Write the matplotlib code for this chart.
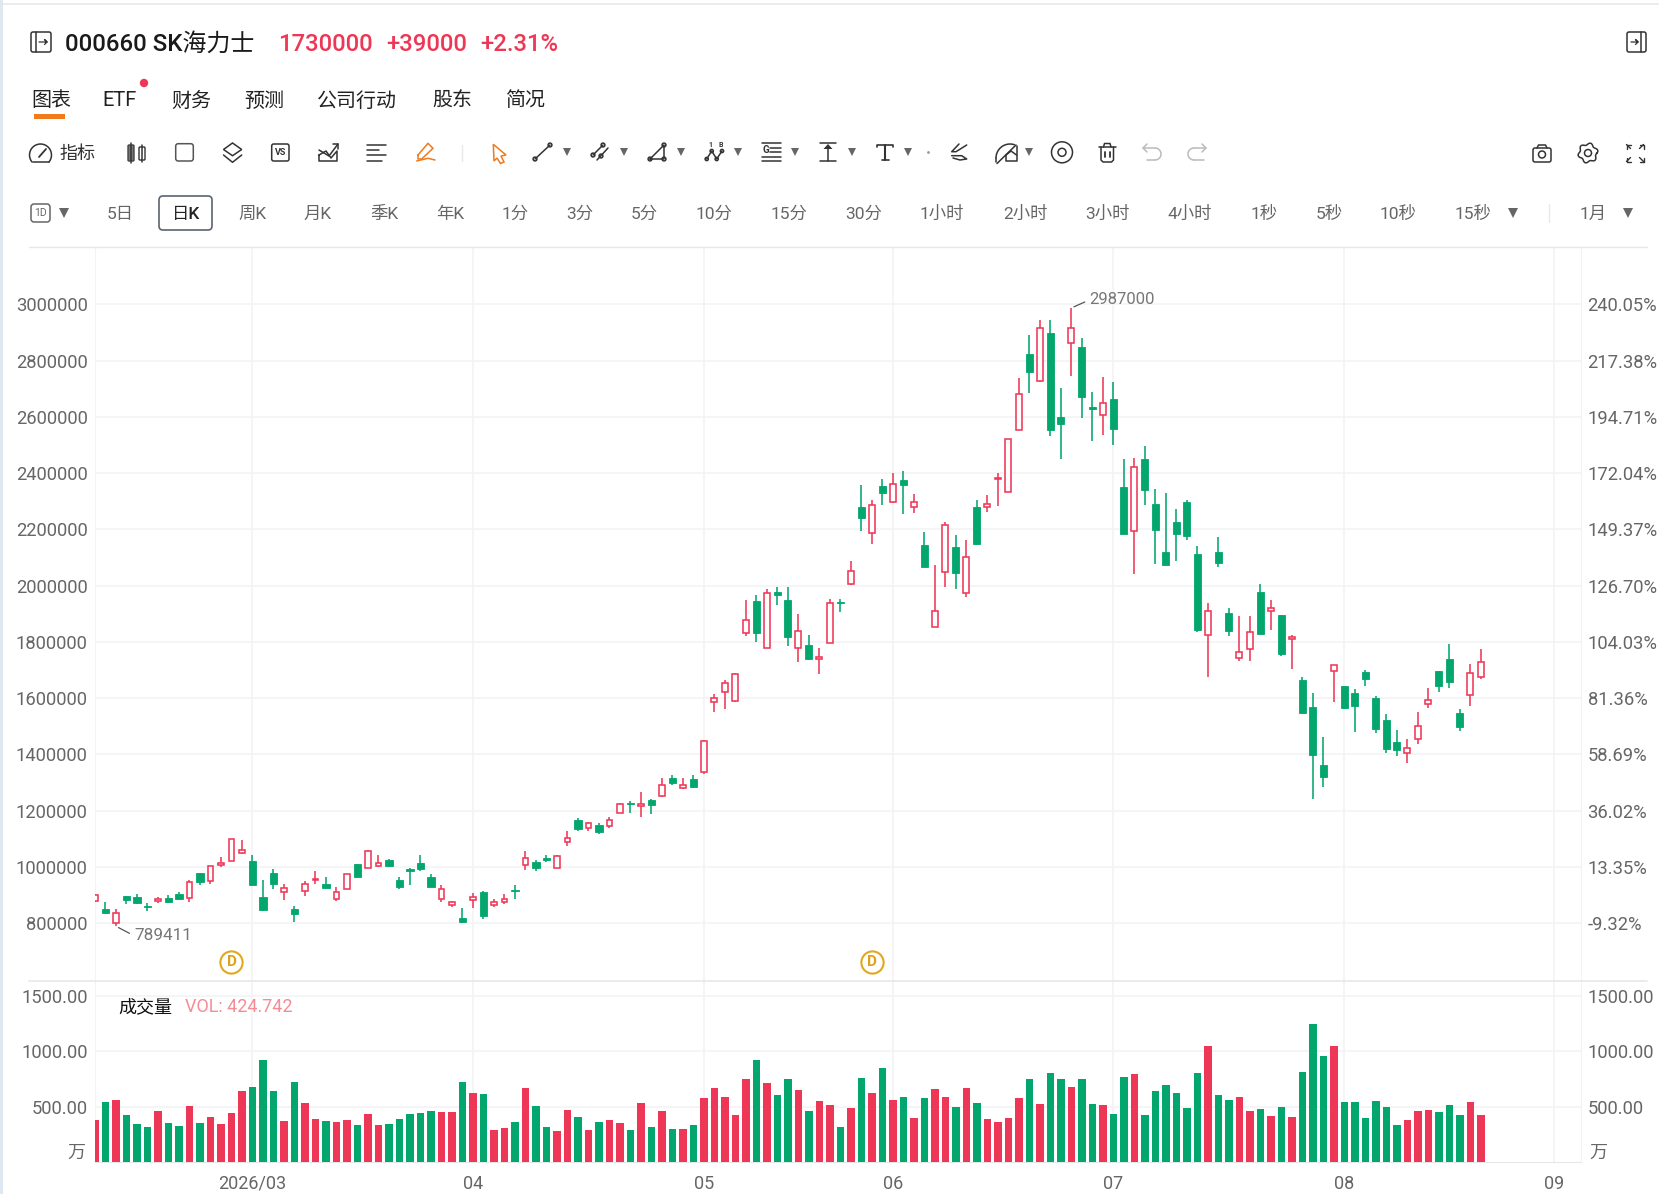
from matplotlib import pyplot as plt
from matplotlib.patches import FancyBboxPatch, Circle, Rectangle, Polygon
from matplotlib.transforms import blended_transform_factory
import numpy as np

plt.rcParams["font.family"] = ["Roboto", "Noto Sans CJK SC", "DejaVu Sans"]

W, H = 1659, 1194

#prices in thousands
opens = [881, 850, 802, 897, 892, 862, 878, 890, 904, 889, 979, 949, 1006, 1022, 1049, 1023, 895, 977, 910, 852,
         914, 953, 940, 888, 923, 1010, 998, 1004, 1024, 953, 994, 1016, 965, 888, 864, 818, 883, 913, 865, 874,
         919, 1006, 1017, 1033, 998, 1089, 1168, 1139, 1149, 1146, 1193, 1227, 1218, 1238, 1251, 1315, 1282, 1313, 1336, 1588,
         1621, 1589, 1831, 1944, 1780, 1979, 1949, 1778, 1790, 1741, 1797, 1943, 2006, 2278, 2187, 2353, 2296, 2377, 2281, 2143,
         1854, 2047, 2137, 1973, 2281, 2280, 2378, 2333, 2555, 2823, 2726, 2897, 2598, 2864, 2850, 2635, 2607, 2665, 2351, 2196,
         2449, 2289, 2118, 2228, 2296, 2114, 1825, 2120, 1903, 1744, 1774, 1977, 1910, 1895, 1812, 1663, 1568, 1361, 1696, 1644,
         1620, 1694, 1601, 1522, 1443, 1404, 1455, 1580, 1696, 1738, 1547, 1612, 1674]
highs = [904, 877, 850, 898, 904, 873, 894, 902, 911, 955, 979, 1004, 1037, 1100, 1096, 1042, 955, 993, 939, 863,
         951, 986, 964, 929, 976, 1011, 1060, 1043, 1027, 964, 996, 1043, 974, 935, 879, 853, 907, 914, 888, 903,
         935, 1057, 1025, 1043, 1042, 1129, 1173, 1161, 1155, 1177, 1227, 1235, 1268, 1243, 1318, 1328, 1318, 1327, 1450, 1614,
         1665, 1688, 1949, 1967, 1989, 1994, 1996, 1898, 1823, 1777, 1954, 1951, 2088, 2359, 2306, 2379, 2399, 2409, 2327, 2190,
         2073, 2225, 2181, 2164, 2305, 2322, 2402, 2523, 2739, 2892, 2945, 2944, 2704, 2987, 2879, 2688, 2743, 2724, 2449, 2455,
         2498, 2342, 2328, 2271, 2305, 2142, 1937, 2172, 1919, 1893, 1891, 2007, 1949, 1896, 1823, 1675, 1620, 1461, 1719, 1645,
         1631, 1702, 1607, 1543, 1488, 1456, 1550, 1636, 1697, 1793, 1561, 1722, 1774]
lows = [877, 834, 789.411, 869, 870, 844, 873, 872, 883, 877, 936, 941, 999, 1021, 1047, 935, 844, 923, 883, 805,
        897, 938, 926, 881, 922, 965, 997, 1000, 1000, 923, 935, 986, 928, 877, 859, 802, 855, 815, 858, 868,
        885, 989, 987, 1019, 997, 1076, 1128, 1127, 1118, 1137, 1191, 1191, 1179, 1190, 1248, 1293, 1278, 1282, 1332, 1552,
        1563, 1588, 1822, 1801, 1778, 1932, 1785, 1727, 1737, 1686, 1795, 1907, 2002, 2196, 2148, 2287, 2294, 2255, 2259, 2066,
        1853, 1995, 1989, 1959, 2146, 2262, 2282, 2332, 2553, 2684, 2725, 2532, 2449, 2745, 2597, 2513, 2537, 2499, 2184, 2042,
        2288, 2077, 2072, 2088, 2162, 1836, 1674, 2068, 1820, 1733, 1731, 1828, 1842, 1750, 1704, 1548, 1243, 1283, 1585, 1561,
        1480, 1645, 1478, 1406, 1395, 1370, 1437, 1564, 1622, 1637, 1484, 1573, 1668]
closes = [901, 837, 838, 883, 872, 857, 887, 876, 888, 947, 948, 1003, 1016, 1099, 1062, 936, 846, 938, 925, 833,
          938, 958, 927, 910, 974, 966, 1056, 1013, 1004, 928, 985, 992, 930, 922, 875, 804, 895, 827, 877, 885,
          914, 1033, 996, 1025, 1040, 1104, 1134, 1155, 1124, 1167, 1224, 1224, 1224, 1219, 1291, 1297, 1293, 1283, 1447, 1602,
          1653, 1686, 1878, 1833, 1975, 1968, 1816, 1839, 1741, 1745, 1938, 1938, 2051, 2239, 2288, 2329, 2363, 2357, 2297, 2068,
          1910, 2214, 2045, 2101, 2147, 2289, 2382, 2520, 2682, 2761, 2917, 2552, 2576, 2916, 2671, 2627, 2648, 2557, 2184, 2423,
          2340, 2198, 2072, 2182, 2177, 1842, 1911, 2079, 1840, 1764, 1836, 1829, 1919, 1757, 1818, 1548, 1399, 1320, 1717, 1564,
          1574, 1667, 1491, 1420, 1417, 1423, 1503, 1593, 1642, 1659, 1497, 1691, 1730]
volumes = [378, 546, 558, 423, 342, 315, 462, 351, 330, 504, 351, 411, 345, 447, 645, 681, 924, 645, 375, 726,
           531, 393, 369, 366, 384, 333, 435, 336, 342, 393, 435, 447, 465, 453, 450, 720, 627, 612, 291, 309,
           360, 672, 504, 315, 279, 474, 411, 291, 360, 378, 354, 291, 537, 315, 459, 303, 303, 336, 579, 666,
           588, 429, 747, 918, 714, 606, 750, 651, 462, 555, 513, 315, 492, 756, 624, 852, 561, 585, 396, 579,
           663, 588, 495, 666, 531, 390, 366, 399, 582, 750, 522, 807, 750, 681, 750, 522, 513, 432, 771, 798,
           426, 639, 699, 627, 486, 807, 1047, 606, 561, 591, 465, 483, 417, 495, 405, 813, 1245, 957, 1050, 546,
           540, 396, 552, 501, 333, 384, 459, 471, 453, 516, 426, 546, 424.742]

price_ticks = [800000, 1000000, 1200000, 1400000, 1600000, 1800000, 2000000, 2200000, 2400000, 2600000, 2800000, 3000000]
pct_labels = ["-9.32%", "13.35%", "36.02%", "58.69%", "81.36%", "104.03%", "126.70%", "149.37%", "172.04%", "194.71%", "217.38%", "240.05%"]
vol_ticks = [500, 1000, 1500]
month_pos = [15, 36, 58, 76, 97, 119, 139]
month_labels = ["2026/03", "04", "05", "06", "07", "08", "09"]
div_pos = [13, 74]

tabs = ["图表", "ETF", "财务", "预测", "公司行动", "股东", "简况"]
tab_x = [51, 120, 191, 264, 357, 452, 525]
periods = ["5日", "周K", "月K", "季K", "年K", "1分", "3分", "5分", "10分", "15分", "30分", "1小时", "2小时", "3小时", "4小时", "1秒", "5秒", "10秒", "15秒", "1月"]
period_x = [120, 252, 318, 384, 450, 515, 580, 644, 714, 789, 864, 942, 1025, 1108, 1190, 1264, 1329, 1398, 1473, 1593]

RED = "#ee3756"
GREEN = "#03a66d"
GRID = "#f3f3f5"
LINE = "#e6e7ea"
TICK = "#666666"
ICON = "#333333"
ORANGE = "#f07a1c"
FAINT = "#bbbbbb"

opens, highs, lows, closes = [np.array(a) * 1000.0 for a in (opens, highs, lows, closes)]
xs = np.arange(len(opens))
up = closes >= opens

def px_axes(left, top, right, bottom):
    return fig.add_axes([left / W, 1 - bottom / H, (right - left) / W, (bottom - top) / H])

fig = plt.figure(figsize=(W / 100, H / 100), dpi=100, facecolor="white")
LEFT, RIGHT = 95, 1580.6
ax = px_axes(LEFT, 247, RIGHT, 981)
ax_vol = px_axes(LEFT, 981, RIGHT, 1162.3)

ax.set_xlim(0, 141.5)
ax.set_ylim(594900, 3203700)
ax_vol.set_xlim(0, 141.5)
ax_vol.set_ylim(0, 1631)

#candles: hollow red up, filled green down
for mask, col in ((up, RED), (~up, GREEN)):
    ax.vlines(xs[mask], lows[mask], highs[mask], color=col, lw=1.15, zorder=3)
body = np.abs(closes - opens)
low_end = np.minimum(opens, closes)
ax.bar(xs[up], body[up], bottom=low_end[up], width=0.56, facecolor="white", edgecolor=RED, lw=1.15, zorder=4)
ax.bar(xs[~up], body[~up], bottom=low_end[~up], width=0.68, facecolor=GREEN, edgecolor=GREEN, lw=0.6, zorder=4)

ax_vol.bar(xs, volumes, width=0.72, color=[RED if u else GREEN for u in up], zorder=3)

for a in (ax, ax_vol):
    a.set_xticks(month_pos)
    a.grid(True, axis="both", color=GRID, lw=1.1, zorder=0)
    a.set_axisbelow(True)
    for s in a.spines.values():
        s.set_visible(False)
    a.spines["left"].set_visible(True)
    a.spines["right"].set_visible(True)
    a.spines["left"].set_color(GRID)
    a.spines["right"].set_color(GRID)
ax_vol.spines["bottom"].set_visible(True)
ax_vol.spines["bottom"].set_color(LINE)

ax.set_xticklabels([])
ax.tick_params(axis="x", length=0)
ax.set_yticks(price_ticks)
ax.set_yticklabels([str(p) for p in price_ticks])
ax.tick_params(axis="y", length=0, labelsize=13.2, labelcolor=TICK, pad=5.2)

ax_vol.set_xticklabels(month_labels)
ax_vol.tick_params(axis="x", length=0, labelsize=13, labelcolor=TICK, pad=9)
ax_vol.set_yticks(vol_ticks)
ax_vol.set_yticklabels(["%.2f" % v for v in vol_ticks])
ax_vol.tick_params(axis="y", length=0, labelsize=13.2, labelcolor=TICK, pad=5.2)

ax_r = ax.twinx()
ax_r.set_ylim(ax.get_ylim())
ax_r.set_yticks(price_ticks)
ax_r.set_yticklabels(pct_labels)
ax_r.tick_params(axis="y", length=0, labelsize=13.2, labelcolor=TICK, pad=5)
for s in ax_r.spines.values():
    s.set_visible(False)

ax_vol_r = ax_vol.twinx()
ax_vol_r.set_ylim(ax_vol.get_ylim())
ax_vol_r.set_yticks(vol_ticks)
ax_vol_r.set_yticklabels(["%.2f" % v for v in vol_ticks])
ax_vol_r.tick_params(axis="y", length=0, labelsize=13.2, labelcolor=TICK, pad=5)
for s in ax_vol_r.spines.values():
    s.set_visible(False)

#extremes
i_lo = int(np.argmin(lows))
i_hi = int(np.argmax(highs))
ax.annotate(str(int(lows[i_lo])), xy=(i_lo, lows[i_lo]), xytext=(13, -6.8), textcoords="offset points",
            fontsize=12.3, color="#777777", va="center", ha="left", zorder=6,
            arrowprops=dict(arrowstyle="-", color="#555555", lw=0.9, relpos=(0, 0.5), shrinkA=1.5, shrinkB=2))
ax.annotate(str(int(highs[i_hi])), xy=(i_hi, highs[i_hi]), xytext=(13, 5.8), textcoords="offset points",
            fontsize=12, color="#777777", va="center", ha="left", zorder=6,
            arrowprops=dict(arrowstyle="-", color="#555555", lw=0.9, relpos=(0, 0.5), shrinkA=1.5, shrinkB=2))

#dividend markers
tr = blended_transform_factory(ax.transData, ax.transAxes)
ax.plot(div_pos, [0.0255] * len(div_pos), "o", transform=tr, ms=16, mfc="white", mec="#e0a81c", mew=1.5, zorder=5)
for d in div_pos:
    ax.text(d, 0.0255, "D", transform=tr, color="#dca21a", fontsize=11, fontweight="bold", ha="center", va="center", zorder=6)

#everything around the chart, in pixel coordinates
ui = fig.add_axes([0, 0, 1, 1], zorder=10)
ui.set_xlim(0, W)
ui.set_ylim(H, 0)
ui.axis("off")
ui.patch.set_alpha(0)

def seg(xx, yy, color=ICON, lw=1.1):
    ui.plot(xx, yy, color=color, lw=lw, solid_capstyle="round", solid_joinstyle="round")

def rbox(x0, y0, x1, y1, color=ICON, lw=1.1, r=2, face="none"):
    ui.add_patch(FancyBboxPatch((x0 + r, y0 + r), x1 - x0 - 2 * r, y1 - y0 - 2 * r, boxstyle="round,pad=%s" % r,
                                fc=face, ec=color, lw=lw))

def ring(x, y, r, color=ICON, lw=1.1, face="none"):
    ui.add_patch(Circle((x, y), r, fc=face, ec=color, lw=lw))

def caret(x, y=152, color="#666666", size=5.5):
    ui.plot([x], [y], "v", color=color, ms=size, mew=0)

def label(x, y, s, size=13, color=TICK, ha="center", **kw):
    ui.text(x, y, s, fontsize=size, color=color, ha=ha, va="center", **kw)

#page edges
ui.add_patch(Rectangle((0, 0), 3, H, fc="#dfe7f0", ec="none"))
seg([3, W], [4, 4], LINE, 1.2)
seg([29, 1647], [247, 247], LINE, 1.0)
seg([29, 1647], [981, 981], LINE, 1.2)

#header
rbox(31, 32, 51, 52)
seg([36, 36], [32, 52])
seg([39, 47, 44.5, 47, 44.5], [42, 42, 39.5, 42, 44.5], lw=0.9)
rbox(1627, 32, 1646, 52)
seg([1641, 1641], [32, 52])
seg([1631, 1638, 1635.5, 1638, 1635.5], [42, 42, 39.5, 42, 44.5], lw=0.9)
label(65, 44, "000660 SK海力士", size=17.3, color="#1a1a1a", ha="left", fontweight="medium")
label(278, 44.5, "1730000", size=17.2, color=RED, ha="left", fontweight="medium")
label(386, 44.5, "+39000", size=17.2, color=RED, ha="left", fontweight="medium")
label(480, 44.5, "+2.31%", size=17.2, color=RED, ha="left", fontweight="medium")

#tabs
for x, s in zip(tab_x, tabs):
    label(x, 101, s, size=14.4, color="#222222")
ui.add_patch(Circle((144, 83), 4.2, fc=RED, ec="none"))
ui.add_patch(Rectangle((34, 114), 31, 5, fc=ORANGE, ec="none"))

#toolbar
t = np.linspace(np.pi * 0.78, np.pi * 2.22, 30)
seg(40.5 + 11 * np.cos(t), 155 + 11 * np.sin(t))
seg([32.5, 48.5], [162, 162])
seg([39, 46], [157, 149], lw=1.3)
label(59, 154, "指标", size=13, color="#333333", ha="left")
#candle icon
rbox(128, 145, 134, 161, color="#444444", lw=1.0, r=1, face="#777777")
seg([131, 131], [143, 163])
rbox(139, 147, 145, 160, lw=1.0, r=1)
seg([142, 142], [145, 162])
rbox(175.7, 143.7, 193.3, 161, color="#555555", r=2.5)
#layers
ui.add_patch(Polygon([(232.5, 143), (241.7, 149.5), (232.5, 155.7), (223.5, 149.5)], closed=True, fc="none", ec=ICON, lw=1.1))
seg([223.5, 232.5, 241.7], [155, 162.3, 155])
rbox(271.7, 144, 289, 161, r=2)
label(280.4, 152.6, "VS", size=6.5, color=ICON, fontweight="bold")
#area chart
seg([319, 326, 331, 337, 337, 319, 319], [155, 151, 158, 151, 161, 161, 155])
seg([319, 329, 338], [150, 156, 144])
seg([333, 338, 338], [144, 144, 149])
#list
seg([366.7, 386], [145, 145])
seg([366.7, 379], [150, 150])
seg([366.7, 386], [155, 155])
seg([366.7, 382], [160.7, 160.7])
#pen, active
seg([418, 428, 433, 421.7, 418, 418], [155, 143.3, 148.3, 159, 159, 155], ORANGE)
seg([416.7, 428, 435], [161, 158.3, 160], ORANGE)
seg([461.6, 461.6], [145, 161], "#e8e8e8", 1.0)
#cursor, active
ui.add_patch(Polygon([(493.3, 144.3), (506, 155), (501, 156), (504, 162), (500.5, 163.5), (497, 158), (494, 161)],
                     closed=True, fc="none", ec=ORANGE, lw=1.1))
#line tool
seg([535, 550], [159, 145])
ring(535, 159, 1.9)
ring(550, 145, 1.9)
caret(567)
#parallel
seg([593, 603], [155, 145])
seg([597, 608], [160, 148])
ring(593, 155, 1.9)
ring(603, 145, 1.9)
ring(601, 156, 1.9)
caret(624)
#triangle
seg([650, 664, 664, 650], [159, 145, 159, 159])
ring(650, 159, 1.9)
ring(664, 145, 1.9)
ring(664, 159, 1.9)
caret(681)
#zigzag
seg([706.7, 711.7, 716.7, 722], [159, 151, 159, 151])
for a, b in ((706.7, 159), (711.7, 151), (716.7, 159), (722, 151)):
    ring(a, b, 1.6)
label(710.7, 145, "1", size=5, color=ICON, fontweight="bold")
label(720.7, 145, "B", size=5, color=ICON, fontweight="bold")
caret(738)
#fib
seg([761.7, 780.7], [142.5, 142.5])
label(765.5, 149.7, "G", size=7, color=ICON, fontweight="bold")
seg([770, 780.7], [147.7, 147.7])
seg([770, 780.7], [151.7, 151.7])
seg([761.7, 780.7], [156.7, 156.7])
seg([761.7, 780.7], [160.7, 160.7])
caret(795)
#measure
seg([820, 836], [142.5, 142.5])
seg([828, 828], [148, 161])
seg([820, 836], [161, 161])
ui.add_patch(Polygon([(828, 144), (823.5, 149), (832.5, 149)], closed=True, fc=ICON, ec="none"))
caret(852)
#text tool
seg([877, 877, 893, 893], [147, 144.5, 144.5, 147], lw=1.2)
seg([885, 885], [144.5, 160], lw=1.5)
seg([881.5, 888.5], [160, 160], lw=1.2)
caret(908)
ui.plot([928], [152], ".", color="#999999", ms=2)
#scribble
seg([959, 951.7, 956, 966.7], [144, 151.7, 151.7, 145])
seg([951.7, 961.7, 966.7, 960, 953], [155.7, 155.7, 159, 160, 158])
#pen with slash
a = np.linspace(np.pi, np.pi * 1.6, 15)
seg(1010 + 14 * np.cos(a), 158 + 14 * np.sin(a))
seg([996, 996], [158, 162])
seg([1016.5, 1016.5, 1006, 1006], [146, 161, 161, 155])
seg([1006, 1011, 1016.5], [155, 151, 155])
seg([997, 1016], [163.5, 145])
caret(1029)
#eye
ring(1062, 152.3, 10.5)
ring(1062, 152.3, 4)
#trash
seg([1099, 1115.5], [147, 147])
seg([1103.5, 1104.5, 1110, 1111], [147, 143.5, 143.5, 147])
seg([1101, 1101, 1103, 1111.5, 1113.5, 1113.5], [147, 160, 162, 162, 160, 147])
seg([1105, 1105], [152, 157], lw=1.3)
seg([1110, 1110], [152, 157], lw=1.3)
#undo and redo, disabled
a = np.linspace(-np.pi / 2, np.pi / 2, 20)
seg([1143, 1155], [148, 148], FAINT)
seg(1155 + 6 * np.cos(a), 154 + 6 * np.sin(a), FAINT)
seg([1155, 1147], [160, 160], FAINT)
seg([1147, 1143, 1147], [144, 148, 152], FAINT)
seg([1206, 1194], [148, 148], FAINT)
seg(1194 - 6 * np.cos(a), 154 + 6 * np.sin(a), FAINT)
seg([1194, 1204], [160, 160], FAINT)
seg([1202, 1206, 1202], [144, 148, 152], FAINT)
#camera, gear, fullscreen
rbox(1533, 148, 1551, 162)
seg([1537, 1538.5, 1545.5, 1547], [148, 145, 145, 148])
ring(1542, 154.5, 3.5)
a = np.linspace(0, 2 * np.pi, 120)
rr = 9 + 1.1 * np.cos(6 * a + np.pi / 2)
seg(1588 + rr * np.cos(a), 153 + rr * np.sin(a))
ring(1588, 153, 3.5)
for sx, sy in ((-1, -1), (1, -1), (-1, 1), (1, 1)):
    cx, cy = 1635 + sx * 8.5, 153 + sy * 8.5
    seg([cx - sx * 4, cx, cx], [cy, cy, cy - sy * 4], lw=1.0)
    seg([cx, cx - sx * 4], [cy, cy - sy * 4], lw=1.0)

#period row
rbox(31, 204, 50, 222, color="#666666", r=3)
label(40.5, 213.5, "1D", size=7.5, color="#666666")
caret(64, 213, "#666666", 7)
rbox(159, 196, 212, 230, color="#5b6470", lw=1.2, r=4)
label(186, 214, "日K", size=12.5, color="#222222", fontweight="medium")
for x, s in zip(period_x, periods):
    label(x, 214, s, size=12.5)
caret(1513, 213, "#666666", 7)
caret(1628, 213, "#666666", 7)
seg([1549, 1549], [204, 222], "#e8e8e8", 1.0)

#volume panel titles
label(118, 1007, "成交量", size=13, color="#111111", ha="left")
label(185, 1007, "VOL: 424.742", size=13, color="#f58b95", ha="left")
label(85, 1153, "万", size=13, ha="right")
label(1589, 1153, "万", size=13, ha="left")

fig.savefig("out.png", dpi=100)
